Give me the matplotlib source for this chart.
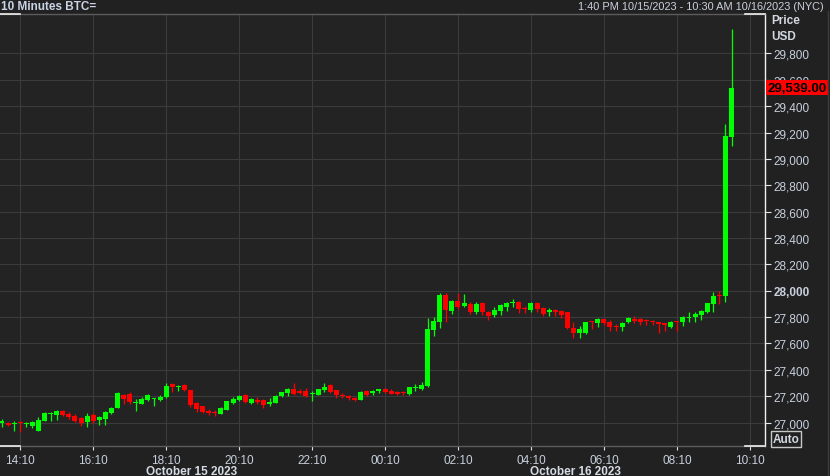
import matplotlib
matplotlib.use("Agg")
import matplotlib.pyplot as plt
import matplotlib.transforms as mtransforms
import numpy as np

# ---- data ----
title_left = "10 Minutes BTC="
title_right = "1:40 PM 10/15/2023 - 10:30 AM 10/16/2023 (NYC)"
start_time = "13:40"
interval_min = 10

opens = [27000, 26996, 26992, 26998, 26986, 26971, 26938, 27014, 27066, 27059,
         27090, 27064, 27052, 27034, 27002, 27057, 27019, 27027, 27072, 27110,
         27211, 27216, 27150, 27140, 27173, 27176, 27173, 27191, 27292, 27272,
         27285, 27249, 27148, 27123, 27085, 27082, 27064, 27097, 27148, 27173,
         27211, 27148, 27171, 27171, 27140, 27148, 27199, 27224, 27254, 27241,
         27237, 27214, 27211, 27247, 27287, 27247, 27211, 27203, 27186, 27173,
         27241, 27224, 27237, 27254, 27241, 27234, 27229, 27216, 27260, 27254,
         27279, 27702, 27760, 27967, 27846, 27922, 27886, 27899, 27836, 27907,
         27841, 27816, 27846, 27874, 27905, 27917, 27868, 27854, 27907, 27869,
         27842, 27846, 27844, 27841, 27715, 27679, 27679, 27767, 27753, 27785,
         27765, 27734, 27722, 27760, 27785, 27785, 27774, 27772, 27765, 27752,
         27722, 27768, 27760, 27796, 27803, 27818, 27836, 27899, 27970, 27962,
         29167]
highs = [27028, 27006, 27014, 27014, 27006, 27009, 27039, 27082, 27082, 27095,
         27097, 27077, 27064, 27039, 27072, 27072, 27052, 27085, 27115, 27234,
         27216, 27229, 27178, 27191, 27216, 27186, 27209, 27300, 27300, 27285,
         27292, 27249, 27153, 27127, 27102, 27097, 27115, 27165, 27191, 27211,
         27216, 27184, 27196, 27178, 27184, 27206, 27234, 27262, 27297, 27254,
         27259, 27237, 27256, 27300, 27292, 27247, 27222, 27209, 27196, 27237,
         27247, 27247, 27254, 27262, 27254, 27241, 27237, 27272, 27292, 27305,
         27793, 27798, 27982, 27982, 27932, 27982, 27975, 27912, 27917, 27912,
         27848, 27874, 27899, 27912, 27937, 27924, 27886, 27917, 27917, 27879,
         27866, 27861, 27854, 27841, 27760, 27730, 27765, 27772, 27793, 27785,
         27778, 27747, 27760, 27803, 27806, 27793, 27785, 27780, 27765, 27752,
         27772, 27772, 27810, 27836, 27836, 27854, 27907, 27988, 28000, 29265,
         29985]
lows = [26966, 26973, 26938, 26930, 26964, 26956, 26938, 27009, 27009, 27021,
        27052, 27027, 27002, 26976, 26964, 26994, 26981, 26981, 27064, 27108,
        27140, 27140, 27090, 27140, 27165, 27127, 27163, 27186, 27234, 27241,
        27241, 27115, 27082, 27072, 27057, 27052, 27064, 27097, 27140, 27165,
        27146, 27140, 27140, 27108, 27123, 27145, 27196, 27203, 27209, 27216,
        27191, 27165, 27206, 27229, 27222, 27184, 27186, 27171, 27165, 27171,
        27203, 27211, 27224, 27222, 27216, 27209, 27209, 27211, 27241, 27249,
        27269, 27654, 27717, 27765, 27823, 27861, 27879, 27823, 27823, 27816,
        27778, 27798, 27818, 27848, 27874, 27831, 27828, 27836, 27836, 27810,
        27810, 27810, 27793, 27709, 27641, 27641, 27671, 27709, 27727, 27742,
        27696, 27696, 27696, 27752, 27752, 27740, 27740, 27742, 27677, 27692,
        27715, 27696, 27734, 27765, 27760, 27780, 27831, 27841, 27899, 27917,
        29100]
closes = [27004, 26981, 26996, 26993, 26990, 27002, 27019, 27072, 27070, 27085,
          27057, 27039, 27009, 26996, 27047, 27014, 27042, 27077, 27110, 27222,
          27178, 27153, 27155, 27178, 27211, 27180, 27196, 27275, 27267, 27276,
          27249, 27133, 27102, 27077, 27070, 27070, 27110, 27161, 27178, 27203,
          27153, 27178, 27153, 27135, 27153, 27199, 27229, 27254, 27216, 27222,
          27199, 27218, 27254, 27267, 27229, 27209, 27199, 27184, 27173, 27234,
          27211, 27237, 27254, 27229, 27216, 27216, 27222, 27267, 27264, 27287,
          27709, 27772, 27967, 27854, 27922, 27879, 27904, 27841, 27899, 27836,
          27810, 27854, 27892, 27907, 27909, 27861, 27864, 27907, 27861, 27823,
          27846, 27842, 27818, 27715, 27677, 27709, 27760, 27763, 27785, 27755,
          27722, 27722, 27755, 27793, 27768, 27765, 27770, 27765, 27747, 27742,
          27765, 27760, 27803, 27800, 27823, 27844, 27907, 27962, 27962, 29170,
          29539]

tick_labels = ["14:10", "16:10", "18:10", "20:10", "22:10", "00:10",
               "02:10", "04:10", "06:10", "08:10", "10:10"]
date_labels = ["October 15 2023", "October 16 2023"]
price_ticks = list(range(27000, 29801, 200))
last_price = 29539.00

# ---- style ----
BG = "#212121"
PLOT_BG = "#232323"
GRID = "#3b3b3b"
TXT = "#c8d0de"
GREEN = "#00ff00"
RED = "#ff0000"

plt.rcParams['font.family'] = ['Liberation Sans', 'DejaVu Sans']

W, H = 830, 477
fig = plt.figure(figsize=(W / 100, H / 100), dpi=100, facecolor=BG)
# plot area in pixels: x 0..765, y 15..447
ax = fig.add_axes([0, 1 - 447 / H, 765 / W, (447 - 15) / H], facecolor=PLOT_BG)


def to_min(s):
    hh, mm = s.split(":")
    return int(hh) * 60 + int(mm)


o = np.array(opens, dtype=float)
c = np.array(closes, dtype=float)
hi = np.array(highs, dtype=float)
lo = np.array(lows, dtype=float)
x = np.arange(len(o))
colors = np.where(c >= o, GREEN, RED)

ax.vlines(x, lo, hi, colors=colors, linewidth=0.9, zorder=3)
body_bottom = np.minimum(o, c)
body_h = np.maximum(np.abs(c - o), 8)
ax.bar(x, body_h, bottom=body_bottom, width=0.82, color=colors, linewidth=0, zorder=4)

# x ticks placed by time
t0 = to_min(start_time)
tick_pos = [((to_min(t) - t0) % 1440) / interval_min for t in tick_labels]
ax.set_xticks(tick_pos)
ax.set_xticklabels(tick_labels)
ax.set_xlim(-0.33, 125.5)

ax.set_ylim(26822, 30099)
ax.yaxis.tick_right()
ax.set_yticks(price_ticks)
ax.set_yticklabels([f"{v:,}" for v in price_ticks])
for lab, v in zip(ax.get_yticklabels(), price_ticks):
    if v == 28000:
        lab.set_fontweight("bold")
        lab.set_color("#e6e9ee")

ax.grid(True, color=GRID, linewidth=0.8, zorder=0)
ax.tick_params(axis="x", colors="#dfe3ea", labelcolor=TXT, labelsize=8.5,
               length=3, width=0.8, pad=2.5)
ax.tick_params(axis="y", colors="#dfe3ea", labelcolor=TXT, labelsize=8.5,
               length=4, width=0.8, pad=2)

for side in ("top", "bottom"):
    ax.spines[side].set_color("#5c5c5c")
    ax.spines[side].set_linewidth(1)
ax.spines["left"].set_visible(False)
ax.spines["right"].set_color("#f0f0f0")
ax.spines["right"].set_linewidth(1)

# white handles at the ends of top/bottom frame
for yy in (0, 1):
    for xs in ((0, 20 / 765), (745 / 765, 1)):
        ax.plot(xs, (yy, yy), transform=ax.transAxes, color="#f0f0f0",
                linewidth=1.2, clip_on=False, zorder=6)

# date labels under the time axis
date_tr = mtransforms.blended_transform_factory(ax.transData, ax.transAxes)
for lab, t in zip(date_labels, ("18:52", "05:24")):
    xp = ((to_min(t) - t0) % 1440) / interval_min
    ax.text(xp, -0.058, lab, transform=date_tr, ha="center", va="center",
            fontsize=8.5, fontweight="bold", color="#d6dce6")

# last price tag
ax.annotate(f"{last_price:,.2f}", xy=(1, last_price),
            xycoords=mtransforms.blended_transform_factory(ax.transAxes, ax.transData),
            xytext=(1.5, 0), textcoords="offset points", ha="left", va="center",
            fontsize=9.5, fontweight="bold", color="black", annotation_clip=False,
            bbox=dict(boxstyle="square,pad=0.12", fc=RED, ec="none"), zorder=10)

# titles and axis captions
fig.text(1 / W, 1 - 7 / H, title_left, ha="left", va="center", fontsize=8.5,
         fontweight="bold", color="#c9d3e6")
fig.text(824 / W, 1 - 7 / H, title_right, ha="right", va="center", fontsize=7.9,
         color="#c9d0dc")
fig.text(771 / W, 1 - 21 / H, "Price", ha="left", va="center", fontsize=8.5,
         fontweight="bold", color="#d3d8e0")
fig.text(771 / W, 1 - 37 / H, "USD", ha="left", va="center", fontsize=8.5,
         fontweight="bold", color="#d3d8e0")
fig.text(786 / W, 1 - 440 / H, "Auto", ha="center", va="center", fontsize=8.5,
         fontweight="bold", color="#d3d8e0",
         bbox=dict(boxstyle="square,pad=0.15", fc="none", ec="#c8c8c8", lw=1))

# thin frame line on the far right
fig.add_artist(plt.Line2D([828 / W, 828 / W], [0, 1 - 12 / H], color="#3c3c3c", linewidth=1))

fig.savefig("out.png", dpi=100, facecolor=BG)
